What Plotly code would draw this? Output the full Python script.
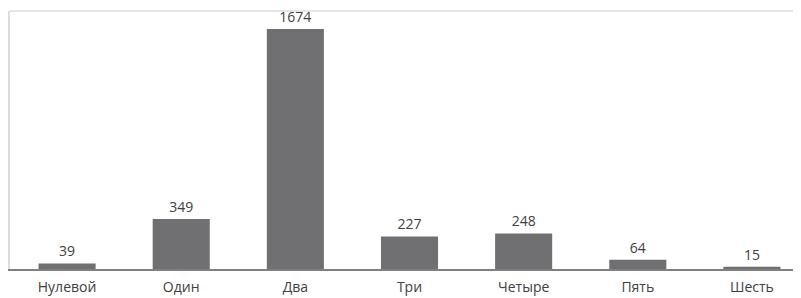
import plotly.graph_objects as go

categories = ["Нулевой", "Один", "Два", "Три", "Четыре", "Пять", "Шесть"]
values = [39, 349, 1674, 227, 248, 64, 15]

fig = go.Figure(go.Bar(
    x=categories, y=values,
    text=[str(v) for v in values], textposition="outside",
    textfont=dict(family="Open Sans", size=14, color="#404040"),
    marker=dict(color="#707073", line=dict(width=0)),
    width=0.5, cliponaxis=False,
))

fig.update_layout(
    width=801, height=298,
    margin=dict(l=2, r=0, t=3, b=37),
    paper_bgcolor="white", plot_bgcolor="white",
    showlegend=False,
    font=dict(family="Open Sans", size=14, color="#404040"),
    xaxis=dict(range=[-0.5, 6.5], showline=True, linecolor="#808080", linewidth=2,
               ticks="outside", ticklen=4, tickcolor="rgba(0,0,0,0)",
               tickfont=dict(size=14, color="#404040"), showgrid=False, zeroline=False),
    yaxis=dict(range=[0, 1800], showline=True, linecolor="#dcdcdc", linewidth=1.5,
               showticklabels=False, showgrid=False, zeroline=False, ticks=""),
    shapes=[dict(type="line", xref="paper", yref="paper", x0=0, x1=1, y0=1, y1=1,
                 line=dict(color="#dcdcdc", width=1.5))],
)

fig.write_html("out.html")
